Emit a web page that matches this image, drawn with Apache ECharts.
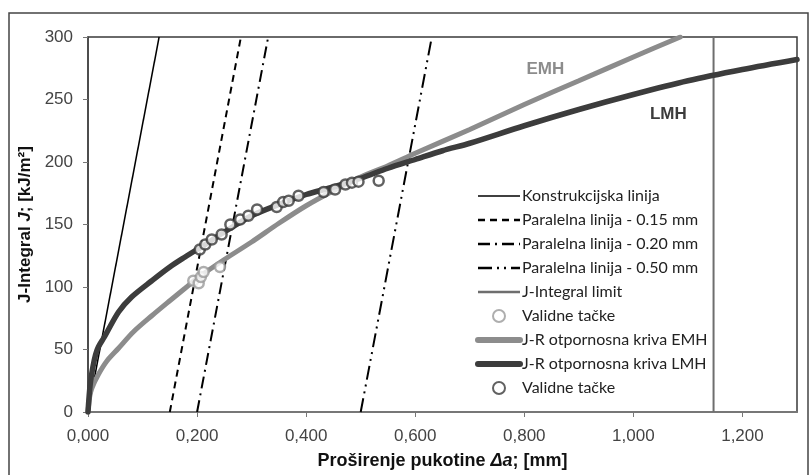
<!DOCTYPE html>
<html><head><meta charset="utf-8">
<script src="https://cdn.jsdelivr.net/npm/echarts@6/dist/echarts.min.js"></script>
<style>html,body{margin:0;padding:0;background:#fff}#c{width:809px;height:475px}</style>
</head><body><div id="c"></div>
<script>
// ---- data (Δa in mm, J in kJ/m²) ----
const constructionLine = [[0, 0], [0.1304, 300]];
const parallel015 = [[0.15, 0], [0.2804, 300]];
const parallel020 = [[0.20, 0], [0.3304, 300]];
const parallel050 = [[0.50, 0], [0.6304, 300]];
const jIntegralLimit = [[1.147, 0], [1.147, 300]];
const emhCurve = [[0,0],[0.003,12],[0.007,19],[0.019,30],[0.035,41],[0.056,51],[0.083,64],[0.117,77],[0.15,89],[0.178,99],[0.2,107],[0.25,122],[0.3,136],[0.35,151],[0.4,165],[0.45,177],[0.5,188],[0.55,197],[0.6,207],[0.7,226],[0.8,246],[0.9,265],[1.0,284],[1.086,300]];
const lmhCurve = [[0,0],[0.004,22],[0.009,36],[0.014,46],[0.019,52],[0.03,60],[0.056,80],[0.08,92],[0.117,105],[0.15,116],[0.178,124],[0.2,130],[0.215,134],[0.25,144],[0.3,157],[0.35,166],[0.4,174],[0.45,180],[0.5,187],[0.55,195],[0.6,202],[0.65,209],[0.7,215],[0.8,229],[0.9,242],[1.0,254],[1.1,265],[1.2,274],[1.3,282]];
const emhPoints = [[0.193,105],[0.203,103],[0.207,108],[0.212,112],[0.242,116]];
const lmhPoints = [[0.205,130],[0.215,134],[0.227,138],[0.245,142],[0.261,150],[0.279,154],[0.294,157],[0.31,162],[0.346,164],[0.358,168],[0.368,169],[0.386,173],[0.432,176],[0.453,178],[0.472,182],[0.484,183.5],[0.496,184.3],[0.533,185]];
const curveLabels = [{name:'EMH', coord:[0.8385,274.5]}, {name:'LMH', coord:[1.064,238]}];
const names = ['Konstrukcijska linija','Paralelna linija - 0.15 mm','Paralelna linija - 0.20 mm','Paralelna linija - 0.50 mm','J-Integral limit','Validne tačke','J-R otpornosna kriva EMH','J-R otpornosna kriva LMH','Validne tačke '];

const EMH_C = '#8c8c8c', LMH_C = '#3c3c3c';
const chart = echarts.init(document.getElementById('c'));
const lineBase = {type:'line', symbol:'none', silent:true, animation:false};
const noSym = {opacity:0, color:'transparent', borderWidth:0};
chart.setOption({
  animation:false,
  backgroundColor:'#fff',
  grid:{left:88, right:12, top:37, bottom:61, show:true, borderColor:'#3a3a3a', borderWidth:1.5},
  graphic:[{type:'rect', shape:{x:9, y:13, width:799, height:475}, style:{fill:'none', stroke:'#444', lineWidth:1.5}, silent:true}],
  xAxis:{type:'value', min:0, max:1.3, interval:0.2,
    axisLine:{onZero:false, lineStyle:{color:'#777', width:2}},
    axisTick:{show:true, length:5, lineStyle:{color:'#777'}},
    splitLine:{show:false},
    axisLabel:{fontFamily:'Liberation Sans', fontSize:17, color:'#444', margin:16, showMaxLabel:false,
      formatter:v => v.toFixed(3).replace('.', ',')},
    name:'{b|Proširenje pukotine }{i|Δa}{b|; [mm]}', nameLocation:'middle', nameGap:40,
    nameTextStyle:{rich:{b:{fontFamily:'Liberation Sans', fontWeight:'bold', fontSize:18, color:'#111'},
      i:{fontFamily:'Liberation Sans', fontWeight:'bold', fontStyle:'italic', fontSize:18, color:'#111'}}}
  },
  yAxis:{type:'value', min:0, max:300, interval:50,
    axisLine:{show:true, lineStyle:{color:'#444', width:1.5}},
    axisTick:{show:true, length:5, lineStyle:{color:'#777'}},
    splitLine:{show:false},
    axisLabel:{fontFamily:'Liberation Sans', fontSize:17, color:'#444', margin:15},
    name:'{b|J-Integral }{i|J}{b|; [kJ/m²]}', nameLocation:'middle', nameGap:48,
    nameTextStyle:{rich:{b:{fontFamily:'Liberation Sans', fontWeight:'bold', fontSize:17, color:'#111'},
      i:{fontFamily:'Liberation Sans', fontWeight:'bold', fontStyle:'italic', fontSize:17, color:'#111'}}}
  },
  legend:{orient:'vertical', left:470, top:182, itemWidth:42, itemHeight:12, itemGap:6,
    textStyle:{fontFamily:'Lato', fontSize:16, color:'#222', lineHeight:18, padding:[0,0,0,-3]},
    data:[
      {name:names[0], lineStyle:{width:1.5}, itemStyle:noSym},
      {name:names[1], lineStyle:{width:2.5}, itemStyle:noSym},
      {name:names[2], lineStyle:{width:2.5}, itemStyle:noSym},
      {name:names[3], lineStyle:{width:2.5}, itemStyle:noSym},
      {name:names[4], lineStyle:{width:2.5}, itemStyle:noSym},
      {name:names[5]},
      {name:names[6], lineStyle:{width:6, cap:'round'}, itemStyle:noSym},
      {name:names[7], lineStyle:{width:6, cap:'round'}, itemStyle:noSym},
      {name:names[8]}
    ]},
  series:[
    Object.assign({}, lineBase, {name:names[0], data:constructionLine, z:3, lineStyle:{color:'#000', width:1.5}}),
    Object.assign({}, lineBase, {name:names[1], data:parallel015, z:3, lineStyle:{color:'#000', width:2, type:[7,5]}}),
    Object.assign({}, lineBase, {name:names[2], data:parallel020, z:3, lineStyle:{color:'#000', width:2, type:[12,5,2,5]}}),
    Object.assign({}, lineBase, {name:names[3], data:parallel050, z:3, lineStyle:{color:'#000', width:2, type:[14,5,2,5,2,5]}}),
    Object.assign({}, lineBase, {name:names[4], data:jIntegralLimit, z:3, lineStyle:{color:'#6e6e6e', width:2}}),
    {type:'scatter', name:names[5], data:emhPoints, z:7, symbol:'circle', symbolSize:10, animation:false,
      itemStyle:{color:'#fff', borderColor:'#9a9a9a', borderWidth:2.5}},
    Object.assign({}, lineBase, {name:names[6], data:emhCurve, z:4, smooth:0.3, lineStyle:{color:EMH_C, width:5, cap:'round'},
      markPoint:{symbol:'circle', symbolSize:0, silent:true, animation:false,
        label:{show:true, formatter:'{b}', fontFamily:'Liberation Sans', fontWeight:'bold', fontSize:17, color:EMH_C},
        data:[curveLabels[0]]}}),
    Object.assign({}, lineBase, {name:names[7], data:lmhCurve, z:5, smooth:0.3, lineStyle:{color:LMH_C, width:5.5, cap:'round'},
      markPoint:{symbol:'circle', symbolSize:0, silent:true, animation:false,
        label:{show:true, formatter:'{b}', fontFamily:'Liberation Sans', fontWeight:'bold', fontSize:17, color:LMH_C},
        data:[curveLabels[1]]}}),
    {type:'scatter', name:names[8], data:lmhPoints, z:8, symbol:'circle', symbolSize:10, animation:false,
      itemStyle:{color:'#fff', borderColor:'#3a3a3a', borderWidth:2.5}}
  ]
});
</script></body></html>
